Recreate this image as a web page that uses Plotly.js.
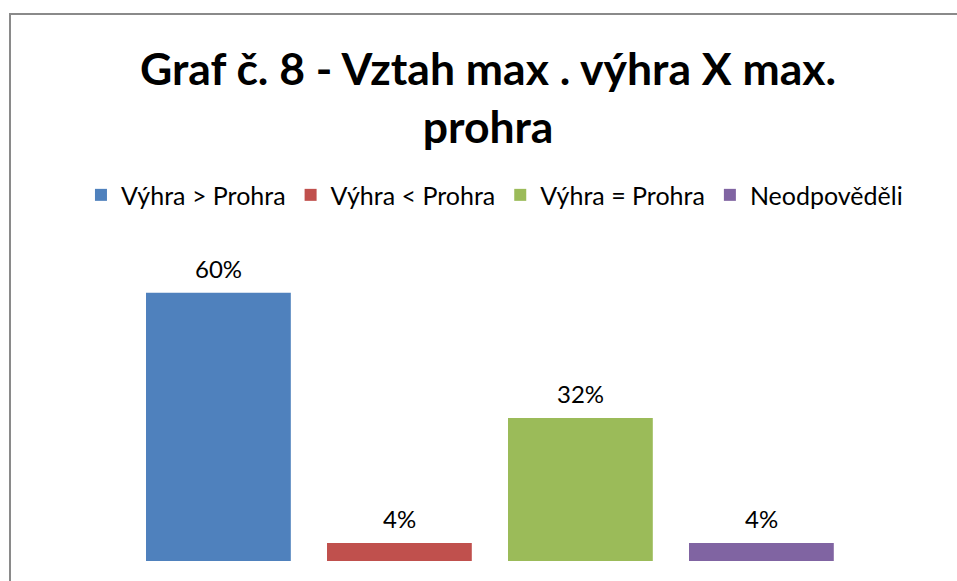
<!DOCTYPE html>
<html>
<head>
<meta charset="utf-8">
<script src="https://cdn.plot.ly/plotly-3.0.1.min.js"></script>
<style>
html,body{margin:0;padding:0;width:957px;height:581px;overflow:hidden;background:#fff;}
#frame{position:absolute;left:9px;top:13px;width:1100px;height:800px;border:2px solid #8a8a8a;box-sizing:border-box;}
#chart{position:absolute;left:0;top:0;width:957px;height:581px;}
</style>
</head>
<body>
<div id="frame"></div>
<div id="chart"></div>
<script>
const categories = ['Výhra > Prohra', 'Výhra < Prohra', 'Výhra = Prohra', 'Neodpověděli'];
const values = [60, 4, 32, 4];
const labels = ['60%', '4%', '32%', '4%'];
const colors = ['#4f81bd', '#c0504d', '#9bbb59', '#8064a2'];
const titleText = 'Graf č. 8 - Vztah max . výhra X max.<br>prohra';

const FONT = 'Lato, "Open Sans", sans-serif';

const traces = categories.map((c, i) => ({
  type: 'bar',
  name: c,
  x: [c],
  y: [values[i]],
  marker: {color: colors[i]},
  hoverinfo: 'skip'
}));

const annotations = categories.map((c, i) => ({
  x: c, y: values[i], xref: 'x', yref: 'y',
  text: labels[i],
  showarrow: false,
  yanchor: 'bottom',
  yshift: 8,
  font: {family: FONT, size: 24, color: '#000'}
}));

const layout = {
  width: 957, height: 581,
  paper_bgcolor: 'rgba(0,0,0,0)',
  plot_bgcolor: 'rgba(0,0,0,0)',
  margin: {l: 9, r: 9, t: 248, b: 20},
  barmode: 'overlay',
  bargap: 0.2,
  showlegend: true,
  annotations: annotations,
  title: {
    text: titleText,
    font: {family: FONT, size: 44.5, color: '#000', weight: 'bold'},
    x: 0.51, xanchor: 'center',
    yref: 'container', y: 0.853, yanchor: 'top'
  },
  legend: {
    orientation: 'h',
    x: 0.517, xanchor: 'center',
    y: 1.169, yanchor: 'middle',
    font: {family: FONT, size: 25, color: '#000'},
    itemclick: false, itemdoubleclick: false,
    traceorder: 'normal'
  },
  xaxis: {
    type: 'category',
    categoryorder: 'array',
    categoryarray: categories,
    range: [-1.157, 4.031],
    showticklabels: false,
    showgrid: false, zeroline: false, showline: false, ticks: ''
  },
  yaxis: {
    range: [0, 70],
    showticklabels: false,
    showgrid: false, zeroline: false, showline: false, ticks: ''
  },
  font: {family: FONT}
};

Plotly.newPlot('chart', traces, layout, {displayModeBar: false, staticPlot: true});
</script>
</body>
</html>
